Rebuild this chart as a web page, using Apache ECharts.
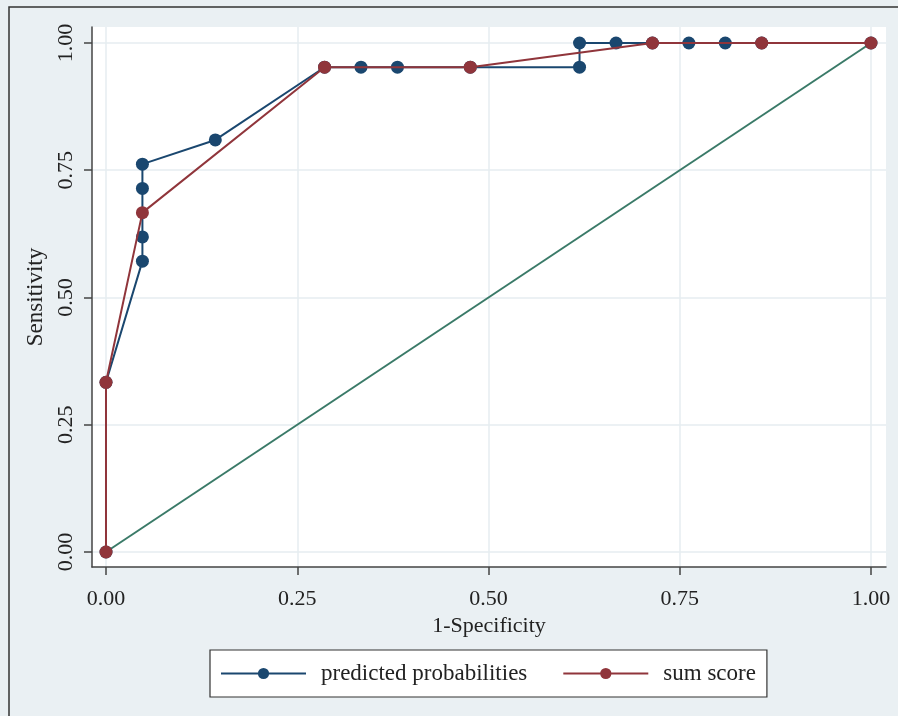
<!DOCTYPE html>
<html><head><meta charset="utf-8">
<script src="https://cdn.jsdelivr.net/npm/echarts@6/dist/echarts.min.js"></script>
<style>html,body{margin:0;padding:0;background:#eaf0f3}#c{width:898px;height:716px}</style>
</head><body><div id="c"></div>
<script>
const tickValues = [0, 0.25, 0.5, 0.75, 1];
const tickLabels = ['0.00', '0.25', '0.50', '0.75', '1.00'];
const predX = [0, 0, 0.0476, 0.0476, 0.0476, 0.0476, 0.1429, 0.2857, 0.3333, 0.3810, 0.4762, 0.6190, 0.6190, 0.6667, 0.7143, 0.7619, 0.8095, 0.8571, 1];
const predY = [0, 0.3333, 0.5714, 0.6190, 0.7143, 0.7619, 0.8095, 0.9524, 0.9524, 0.9524, 0.9524, 0.9524, 1, 1, 1, 1, 1, 1, 1];
const sumX = [0, 0, 0.0476, 0.2857, 0.4762, 0.7143, 0.8571, 1];
const sumY = [0, 0.3333, 0.6667, 0.9524, 0.9524, 1, 1, 1];
const refX = [0, 1];
const refY = [0, 1];

const zip = (a, b) => a.map((v, i) => [v, b[i]]);
const font = 'Liberation Serif';
const labelMap = v => { const i = tickValues.findIndex(t => Math.abs(t - v) < 1e-6); return i >= 0 ? tickLabels[i] : ''; };

const chart = echarts.init(document.getElementById('c'));
chart.setOption({
  backgroundColor: '#eaf0f3',
  animation: false,
  graphic: [{ type: 'rect', shape: { x: 9, y: 7, width: 1000, height: 1000 }, style: { fill: 'none', stroke: '#333', lineWidth: 1.5 }, z: 100 }],
  grid: { left: 92, top: 27, right: 12, bottom: 149, show: true, backgroundColor: '#ffffff', borderWidth: 0 },
  xAxis: {
    type: 'value', min: -0.0183, max: 1.0196,
    name: '1-Specificity', nameLocation: 'middle', nameGap: 48,
    nameTextStyle: { fontFamily: font, fontSize: 22, color: '#222' },
    axisLine: { show: true, onZero: false, lineStyle: { color: '#444', width: 1.5 } },
    axisTick: { show: true, length: 8, customValues: tickValues, lineStyle: { color: '#444', width: 1.5 } },
    axisLabel: { customValues: tickValues, formatter: labelMap, fontFamily: font, fontSize: 22, color: '#222', margin: 21 },
    splitLine: { show: true, lineStyle: { color: '#e6edf0', width: 1.5 } }
  },
  yAxis: {
    type: 'value', min: -0.0295, max: 1.0314,
    name: 'Sensitivity', nameLocation: 'middle', nameGap: 38, nameRotate: 90,
    nameTextStyle: { fontFamily: font, fontSize: 23, color: '#222' },
    axisLine: { show: true, onZero: false, lineStyle: { color: '#444', width: 1.5 } },
    axisTick: { show: true, length: 8, customValues: tickValues, lineStyle: { color: '#444', width: 1.5 } },
    axisLabel: { customValues: tickValues, formatter: labelMap, rotate: 90, fontFamily: font, fontSize: 22, color: '#222', margin: 15 },
    splitLine: { show: true, lineStyle: { color: '#e6edf0', width: 1.5 } }
  },
  legend: {
    left: 210, top: 650, padding: [12, 11, 12, 10], itemGap: 35,
    itemWidth: 85, itemHeight: 14,
    backgroundColor: '#ffffff', borderColor: '#333', borderWidth: 1.2, borderRadius: 0,
    textStyle: { fontFamily: font, fontSize: 23, color: '#222', padding: [0, 0, 0, 10] },
    data: ['predicted probabilities', 'sum score']
  },
  series: [
    { name: 'reference', type: 'line', data: zip(refX, refY), showSymbol: false, symbol: 'none', lineStyle: { color: '#3a7a68', width: 2 }, z: 1 },
    { name: 'predicted probabilities', type: 'line', data: zip(predX, predY), symbol: 'circle', symbolSize: 13, itemStyle: { color: '#1a476f' }, lineStyle: { color: '#1a476f', width: 2 }, z: 2 },
    { name: 'sum score', type: 'line', data: zip(sumX, sumY), symbol: 'circle', symbolSize: 13, itemStyle: { color: '#90353b' }, lineStyle: { color: '#90353b', width: 2 }, z: 3 }
  ]
});
</script></body></html>
